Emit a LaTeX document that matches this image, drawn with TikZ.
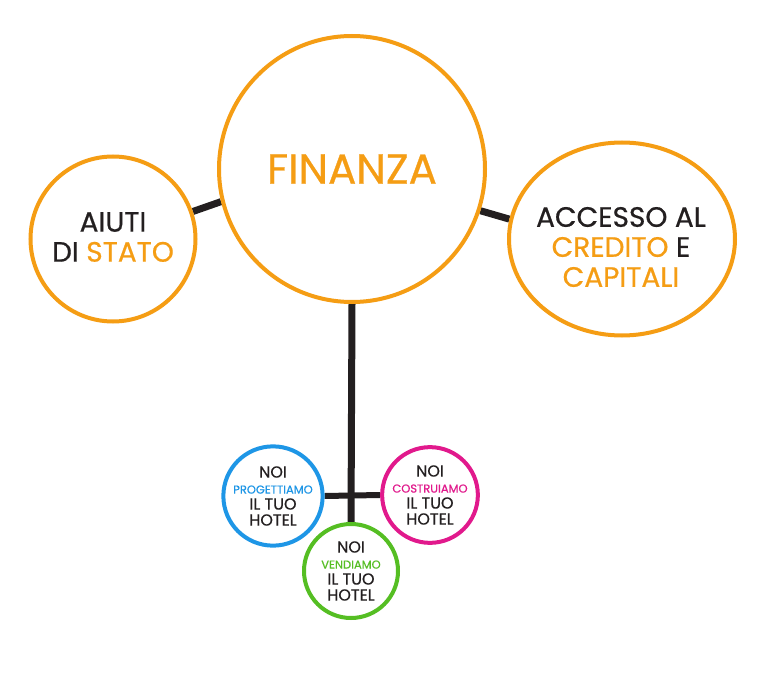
\documentclass[tikz,border=0pt]{standalone}
\usepackage{fontspec}
\setmainfont{Poppins}[FakeBold=0.6]
\usetikzlibrary{shapes.geometric, backgrounds}
\definecolor{HotelOrange}{RGB}{245,157,20}
\definecolor{HotelBlue}{RGB}{30,150,230}
\definecolor{HotelPink}{RGB}{225,25,140}
\definecolor{HotelGreen}{RGB}{85,190,35}
\definecolor{HotelBlack}{RGB}{35,31,32}

\begin{document}
\begin{tikzpicture}[x=1pt, y=-1pt,
  ring/.style={circle, draw=#1, line width=4pt, fill=white, inner sep=0pt, align=center, text=HotelBlack},
  smallring/.style={ring=#1, minimum size=94pt, font=\fontsize{16}{16}\selectfont},
  bigtext/.style={align=center, text=HotelBlack, font=\fontsize{28}{30}\selectfont},
  link/.style={HotelBlack, line width=7pt}]
\useasboundingbox (0,0) rectangle (761,677);

% Main circles
\node[ring=HotelOrange, minimum size=266pt, font=\fontsize{42}{44}\selectfont, text=HotelOrange] (fin) at (352,169) {FINANZA};
\node[ring=HotelOrange, minimum size=165pt] (aiuti) at (113,239) {};
\node[ring=HotelOrange, ellipse, minimum width=226pt, minimum height=193pt] (acc) at (622,239) {};
\node[bigtext] (aiutitext) at (113,237) {AIUTI\\DI \textcolor{HotelOrange}{STATO}};
\node[bigtext] (acctext) at (621,247) {ACCESSO AL\\\textcolor{HotelOrange}{CREDITO} E\\\textcolor{HotelOrange}{CAPITALI}};

% Small circles
\foreach \n/\p/\c/\w in {prog/{273,496}/HotelBlue/PROGETTIAMO, costr/{430,495}/HotelPink/COSTRUIAMO, vendi/{351,571}/HotelGreen/VENDIAMO} {
    \node[smallring=\c] (\n) at (\p) {NOI\\{\fontsize{11.5}{16}\selectfont\color{\c}\w}\\IL TUO\\HOTEL};
}

% Links
\begin{scope}[on background layer]
\draw[link] (fin.194) -- (aiuti.19);
\draw[link] (fin.-18) -- (acc.170);
\draw[link] (fin.south) -- (vendi.north);
\draw[link, line width=6pt] (prog.east) -- (costr.west);
\end{scope}
\end{tikzpicture}
\end{document}
